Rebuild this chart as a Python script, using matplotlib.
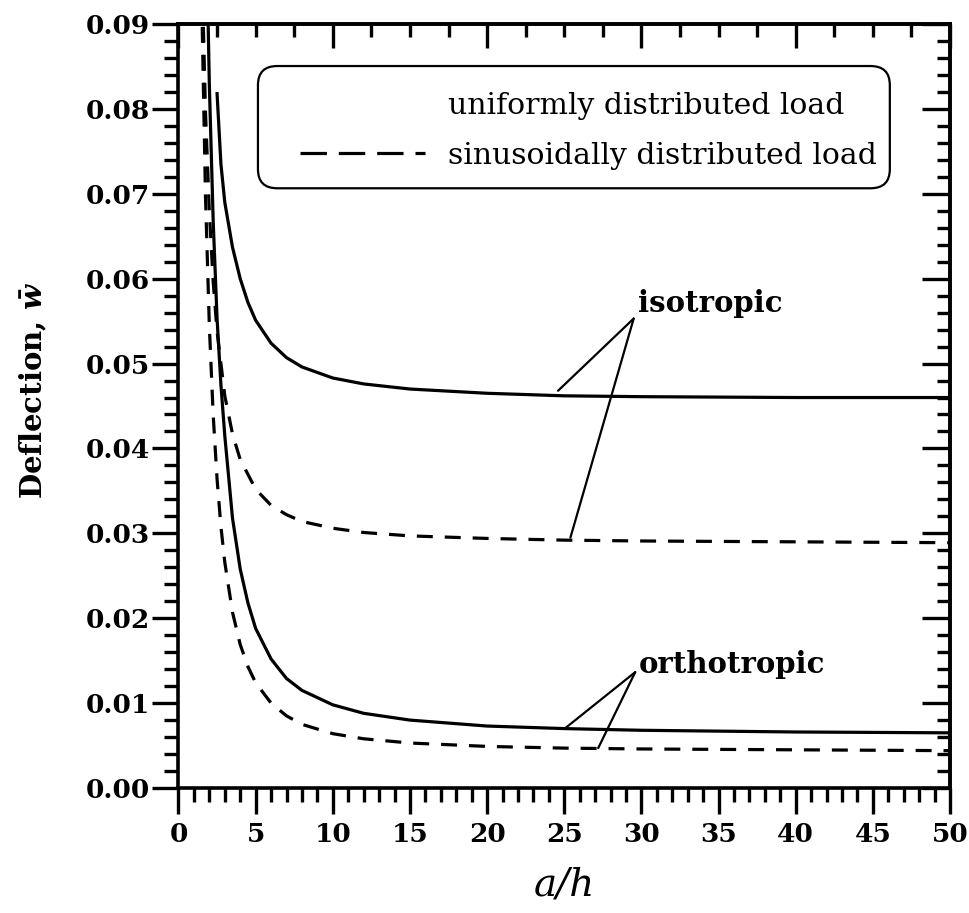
import matplotlib
matplotlib.use('Agg')
import matplotlib.pyplot as plt
from matplotlib.lines import Line2D
from matplotlib.patches import FancyBboxPatch
from matplotlib.ticker import MultipleLocator, FormatStrFormatter

plt.rcParams['font.family'] = ['DejaVu Serif']
plt.rcParams['mathtext.fontset'] = 'custom'
plt.rcParams['mathtext.rm'] = 'DejaVu Serif:bold'
plt.rcParams['mathtext.it'] = 'DejaVu Serif:italic:bold'
plt.rcParams['lines.scale_dashes'] = False

# ---- data ----
iso_uniform_a = [2.5, 2.75, 3.0, 3.5, 4.0, 4.5, 5.0, 6.0, 7.0, 8.0, 10.0, 12.0, 15.0, 20.0, 25.0, 30.0, 40.0, 50.0]
iso_uniform_w = [0.0818, 0.0735, 0.0690, 0.0637, 0.0600, 0.0572, 0.0551, 0.0524, 0.0507, 0.0496, 0.0483,
                 0.0476, 0.0470, 0.0465, 0.0462, 0.0461, 0.0460, 0.0460]

iso_sin_a = [1.5, 1.75, 2.0, 2.25, 2.5, 3.0, 3.5, 4.0, 5.0, 6.0, 7.0, 8.0, 10.0, 12.0, 15.0, 20.0, 25.0, 30.0, 40.0, 50.0]
iso_sin_w = [0.0979, 0.0796, 0.0678, 0.0596, 0.0538, 0.0462, 0.0417, 0.0387, 0.0352, 0.0333, 0.0322, 0.0314,
             0.0306, 0.0301, 0.0297, 0.0294, 0.0292, 0.0291, 0.0290, 0.0289]

ortho_uniform_a = [1.75, 2.0, 2.25, 2.5, 2.75, 3.0, 3.5, 4.0, 4.5, 5.0, 6.0, 7.0, 8.0, 10.0, 12.0, 15.0, 20.0,
                   25.0, 30.0, 40.0, 50.0]
ortho_uniform_w = [0.1061, 0.0828, 0.0667, 0.0553, 0.0475, 0.0415, 0.0318, 0.0258, 0.0218, 0.0188, 0.0152,
                   0.0129, 0.0115, 0.0098, 0.0088, 0.0080, 0.0073, 0.0070, 0.0068, 0.0066, 0.0065]

ortho_sin_a = [1.5, 1.75, 2.0, 2.25, 2.5, 2.75, 3.0, 3.5, 4.0, 4.5, 5.0, 6.0, 7.0, 8.0, 10.0, 12.0, 15.0, 20.0,
               25.0, 30.0, 40.0, 50.0]
ortho_sin_w = [0.0933, 0.0697, 0.0544, 0.0439, 0.0364, 0.0308, 0.0266, 0.0207, 0.0169, 0.0143, 0.0124, 0.0100,
               0.0085, 0.0075, 0.0064, 0.0058, 0.0053, 0.0049, 0.0047, 0.0046, 0.0045, 0.0044]

legend_labels = ['uniformly distributed load', 'sinusoidally distributed load']
x_ticks = [0, 5, 10, 15, 20, 25, 30, 35, 40, 45, 50]
y_ticks = [0.00, 0.01, 0.02, 0.03, 0.04, 0.05, 0.06, 0.07, 0.08, 0.09]

# callout positions (data coords): label anchor, and leader-line ends
iso_label = (29.8, 0.0561)
iso_apex = (29.5, 0.0553)
iso_ends = [(24.6, 0.0468), (25.4, 0.0295)]
ortho_label = (29.8, 0.01353)
ortho_apex = (29.6, 0.01365)
ortho_ends = [(25.1, 0.0071), (27.2, 0.0047)]

# ---- figure ----
fig = plt.figure(figsize=(9.69, 9.13), dpi=100)
ax = fig.add_axes([0.1842, 0.1369, 0.7962, 0.8368])

LW = 2.3
DASH = (0, (11.5, 8.6))
ax.plot(iso_uniform_a, iso_uniform_w, color='k', lw=LW, solid_joinstyle='round')
ax.plot(iso_sin_a, iso_sin_w, color='k', lw=LW, linestyle=DASH)
ax.plot(ortho_uniform_a, ortho_uniform_w, color='k', lw=LW, solid_joinstyle='round')
ax.plot(ortho_sin_a, ortho_sin_w, color='k', lw=LW, linestyle=DASH)

ax.set_xlim(0, 50)
ax.set_ylim(0, 0.09)
ax.set_xticks(x_ticks)
ax.set_yticks(y_ticks)
ax.xaxis.set_minor_locator(MultipleLocator(1))
ax.yaxis.set_minor_locator(MultipleLocator(0.002))
ax.yaxis.set_major_formatter(FormatStrFormatter('%.2f'))

for s in ax.spines.values():
    s.set_linewidth(2.6)

ax.tick_params(axis='both', which='major', direction='out', length=18.5, width=2.4,
               labelsize=19, pad=2)
ax.tick_params(axis='both', which='minor', direction='out', length=10, width=2.4)
ax.tick_params(axis='x', which='major', pad=6)
for lab in ax.get_xticklabels() + ax.get_yticklabels():
    lab.set_fontweight('bold')

# top / right inward ticks
secx = ax.secondary_xaxis('top')
secx.set_xticks([0, 10, 20, 30, 40, 50])
secx.xaxis.set_minor_locator(MultipleLocator(2.5))
secx.tick_params(axis='x', which='major', direction='in', length=17, width=2.4, labeltop=False)
secx.tick_params(axis='x', which='minor', direction='in', length=9.5, width=2.4)
secx.spines['top'].set_linewidth(2.6)

secy = ax.secondary_yaxis('right')
secy.set_yticks(y_ticks)
secy.yaxis.set_minor_locator(MultipleLocator(0.002))
secy.tick_params(axis='y', which='major', direction='in', length=20, width=2.4, labelright=False)
secy.tick_params(axis='y', which='minor', direction='in', length=9.5, width=2.4)
secy.spines['right'].set_linewidth(2.6)

ax.set_xlabel('a/h', fontsize=28, fontstyle='italic', labelpad=14)
ax.set_ylabel(r'Deflection, $\bar{w}$', fontsize=21, fontweight='bold')
ax.yaxis.set_label_coords(-0.168, 0.52)

# legend (frame drawn separately as a rounded box)
handles = [Line2D([], [], linestyle='none'),
           Line2D([], [], color='k', lw=LW, linestyle=(0, (19, 8.6)))]
leg = ax.legend(handles, legend_labels, loc='upper left', bbox_to_anchor=(0.1575, 0.911),
                borderaxespad=0, borderpad=0, fontsize=21.5, handlelength=4.2,
                handletextpad=0.75, labelspacing=0.72, frameon=False)
frame = FancyBboxPatch((0.103, 0.785), 0.819, 0.160, transform=ax.transAxes,
                       boxstyle='round,pad=0,rounding_size=0.025', facecolor='white',
                       edgecolor='k', lw=1.6, zorder=4.5)
ax.add_patch(frame)
leg.set_zorder(5)

# callouts
ax.text(iso_label[0], iso_label[1], 'isotropic', fontsize=21, fontweight='bold',
        ha='left', va='baseline')
for end in iso_ends:
    ax.annotate('', xy=end, xytext=iso_apex,
                arrowprops=dict(arrowstyle='-', lw=1.6, color='k', shrinkA=0, shrinkB=0))
ax.text(ortho_label[0], ortho_label[1], 'orthotropic', fontsize=21, fontweight='bold',
        ha='left', va='baseline')
for end in ortho_ends:
    ax.annotate('', xy=end, xytext=ortho_apex,
                arrowprops=dict(arrowstyle='-', lw=1.6, color='k', shrinkA=0, shrinkB=0))

fig.savefig('out.png', dpi=100)
